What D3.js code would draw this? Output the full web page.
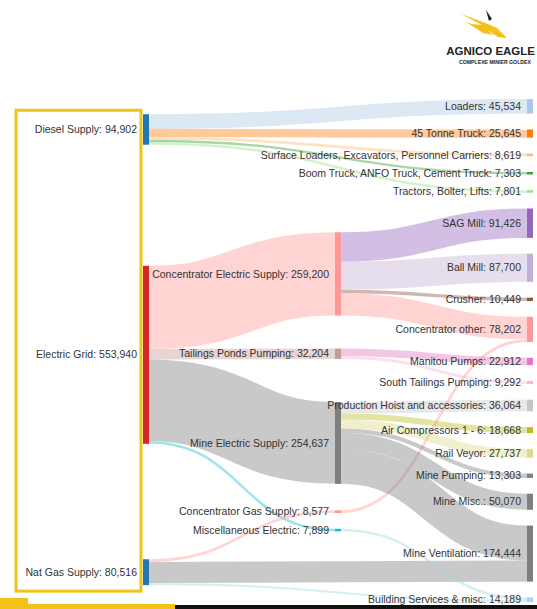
<!DOCTYPE html>
<html>
<head>
<meta charset="utf-8">
<script src="https://cdn.jsdelivr.net/npm/d3@7"></script>
<style>
  html, body { margin: 0; padding: 0; background: #fff; }
  svg { display: block; }
  .label { font-family: "Liberation Sans", Arial, sans-serif; font-size: 10.5px; fill: #333; }
</style>
</head>
<body>
<div id="viz"></div>
<script>
// node names and their colours (same order)
const nodeNames = [
  'Diesel Supply', 'Electric Grid', 'Nat Gas Supply',
  'Concentrator Electric Supply', 'Tailings Ponds Pumping', 'Mine Electric Supply',
  'Concentrator Gas Supply', 'Miscellaneous Electric',
  'Loaders', '45 Tonne Truck', 'Surface Loaders, Excavators, Personnel Carriers',
  'Boom Truck, ANFO Truck, Cement Truck', 'Tractors, Bolter, Lifts',
  'SAG Mill', 'Ball Mill', 'Crusher', 'Concentrator other',
  'Manitou Pumps', 'South Tailings Pumping',
  'Production Hoist and accessories', 'Air Compressors 1 - 6', 'Rail Veyor',
  'Mine Pumping', 'Mine Misc.', 'Mine Ventilation', 'Building Services & misc'
]
const nodeColors = [
  '#1f77b4', '#d62728', '#1f77b4',
  '#ff9896', '#c49c94', '#7f7f7f', '#ff9896', '#17becf',
  '#aec7e8', '#ff7f0e', '#ffbb78', '#2ca02c', '#98df8a',
  '#9467bd', '#c5b0d5', '#8c564b', '#ff9896',
  '#e377c2', '#f7b6d2',
  '#c7c7c7', '#bcbd22', '#dbdb8d', '#7f7f7f', '#7f7f7f', '#7f7f7f', '#9edae5'
]

// flows (source index, target index, value)
const linkSource = [0, 0, 0, 0, 0, 1, 1, 1, 1, 2, 2, 2, 3, 3, 3, 3, 6, 4, 4, 5, 5, 5, 5, 5, 5, 7]
const linkTarget = [8, 9, 10, 11, 12, 3, 4, 5, 7, 6, 24, 25, 13, 14, 15, 16, 16, 17, 18, 19, 20, 21, 22, 23, 24, 25]
const linkValue = [
  45534, 25645, 8619, 7303, 7801,
  259200, 32204, 254637, 7899,
  8577, 65649, 6290,
  91426, 87700, 10449, 69625,
  8577,
  22912, 9292,
  36064, 18668, 27737, 13303, 50070, 108795,
  7899
]

const width = 537
const height = 609
const ext = { x0: 143, x1: 533, y0: 99, y1: 602 }
const nodeWidth = 6
const nodePadding = 15.8
const iterations = 200

/**
 * Small sankey layout (same steps as d3-sankey, which is not in the d3 bundle).
 * Nodes keep their input order inside each column.
 */
function sankeyLayout (nodes, links) {
  nodes.forEach((n, i) => { n.index = i; n.sourceLinks = []; n.targetLinks = [] })
  links.forEach((l, i) => {
    l.index = i
    l.source = nodes[l.source]
    l.target = nodes[l.target]
    l.source.sourceLinks.push(l)
    l.target.targetLinks.push(l)
  })
  nodes.forEach(n => {
    n.value = Math.max(d3.sum(n.sourceLinks, l => l.value), d3.sum(n.targetLinks, l => l.value))
  })

  // depths
  let current = new Set(nodes)
  let next = new Set()
  let x = 0
  while (current.size) {
    for (const node of current) {
      node.depth = x
      for (const { target } of node.sourceLinks) next.add(target)
    }
    x++
    current = next
    next = new Set()
  }
  const nLayers = x
  nodes.forEach(n => { n.layer = n.sourceLinks.length ? n.depth : nLayers - 1 })

  const kx = (ext.x1 - ext.x0 - nodeWidth) / (nLayers - 1)
  const columns = d3.range(nLayers).map(() => [])
  nodes.forEach(n => {
    n.x0 = ext.x0 + n.layer * kx
    n.x1 = n.x0 + nodeWidth
    columns[n.layer].push(n)
  })

  const py = Math.min(nodePadding, (ext.y1 - ext.y0) / (d3.max(columns, c => c.length) - 1))

  const ascendingBreadth = (a, b) => a.y0 - b.y0
  const ascSource = (a, b) => ascendingBreadth(a.source, b.source) || a.index - b.index
  const ascTarget = (a, b) => ascendingBreadth(a.target, b.target) || a.index - b.index

  function reorderLinks (list) {
    for (const { sourceLinks, targetLinks } of list) {
      sourceLinks.sort(ascTarget)
      targetLinks.sort(ascSource)
    }
  }
  function reorderNodeLinks ({ sourceLinks, targetLinks }) {
    for (const { source: { sourceLinks } } of targetLinks) sourceLinks.sort(ascTarget)
    for (const { target: { targetLinks } } of sourceLinks) targetLinks.sort(ascSource)
  }

  // initial breadths
  const ky = d3.min(columns, c => (ext.y1 - ext.y0 - (c.length - 1) * py) / d3.sum(c, n => n.value))
  for (const col of columns) {
    let y = ext.y0
    for (const node of col) {
      node.y0 = y
      node.y1 = y + node.value * ky
      y = node.y1 + py
      for (const link of node.sourceLinks) link.width = link.value * ky
    }
    y = (ext.y1 - y + py) / (col.length + 1)
    col.forEach((node, i) => { node.y0 += y * (i + 1); node.y1 += y * (i + 1) })
    reorderLinks(col)
  }

  function targetTop (source, target) {
    let y = source.y0 - (source.sourceLinks.length - 1) * py / 2
    for (const { target: node, width } of source.sourceLinks) {
      if (node === target) break
      y += width + py
    }
    for (const { source: node, width } of target.targetLinks) {
      if (node === source) break
      y -= width
    }
    return y
  }
  function sourceTop (source, target) {
    let y = target.y0 - (target.targetLinks.length - 1) * py / 2
    for (const { source: node, width } of target.targetLinks) {
      if (node === source) break
      y += width + py
    }
    for (const { target: node, width } of source.sourceLinks) {
      if (node === target) break
      y -= width
    }
    return y
  }

  function topToBottom (col, y, i, alpha) {
    for (; i < col.length; ++i) {
      const node = col[i]
      const dy = (y - node.y0) * alpha
      if (dy > 1e-6) { node.y0 += dy; node.y1 += dy }
      y = node.y1 + py
    }
  }
  function bottomToTop (col, y, i, alpha) {
    for (; i >= 0; --i) {
      const node = col[i]
      const dy = (node.y1 - y) * alpha
      if (dy > 1e-6) { node.y0 -= dy; node.y1 -= dy }
      y = node.y0 - py
    }
  }
  function resolveCollisions (col, alpha) {
    const i = col.length >> 1
    const subject = col[i]
    bottomToTop(col, subject.y0 - py, i - 1, alpha)
    topToBottom(col, subject.y1 + py, i + 1, alpha)
    bottomToTop(col, ext.y1, col.length - 1, alpha)
    topToBottom(col, ext.y0, 0, alpha)
  }

  function relaxLeftToRight (alpha, beta) {
    for (let i = 1; i < columns.length; ++i) {
      const col = columns[i]
      for (const target of col) {
        let y = 0
        let w = 0
        for (const { source, value } of target.targetLinks) {
          const v = value * (target.layer - source.layer)
          y += targetTop(source, target) * v
          w += v
        }
        if (!(w > 0)) continue
        const dy = (y / w - target.y0) * alpha
        target.y0 += dy
        target.y1 += dy
        reorderNodeLinks(target)
      }
      resolveCollisions(col, beta)
    }
  }
  function relaxRightToLeft (alpha, beta) {
    for (let i = columns.length - 2; i >= 0; --i) {
      const col = columns[i]
      for (const source of col) {
        let y = 0
        let w = 0
        for (const { target, value } of source.sourceLinks) {
          const v = value * (target.layer - source.layer)
          y += sourceTop(source, target) * v
          w += v
        }
        if (!(w > 0)) continue
        const dy = (y / w - source.y0) * alpha
        source.y0 += dy
        source.y1 += dy
        reorderNodeLinks(source)
      }
      resolveCollisions(col, beta)
    }
  }

  for (let i = 0; i < iterations; ++i) {
    const alpha = Math.pow(0.99, i)
    const beta = Math.max(1 - alpha, (i + 1) / iterations)
    relaxRightToLeft(alpha, beta)
    relaxLeftToRight(alpha, beta)
  }

  // link breadths
  for (const node of nodes) {
    let y0 = node.y0
    let y1 = node.y0
    for (const link of node.sourceLinks) { link.y0 = y0 + link.width / 2; y0 += link.width }
    for (const link of node.targetLinks) { link.y1 = y1 + link.width / 2; y1 += link.width }
  }
  return { nodes, links }
}

const graph = sankeyLayout(
  nodeNames.map((name, i) => ({ name, color: nodeColors[i] })),
  linkValue.map((value, i) => ({ source: linkSource[i], target: linkTarget[i], value }))
)

const svg = d3.select('#viz')
  .append('svg')
  .attr('width', width)
  .attr('height', height)

const fmt = d3.format(',')

// links
svg.append('g')
  .attr('fill', 'none')
  .selectAll('path')
  .data(graph.links)
  .join('path')
  .attr('d', d3.linkHorizontal()
    .source(d => [d.source.x1, d.y0])
    .target(d => [d.target.x0, d.y1]))
  .attr('stroke', d => d.target.color)
  .attr('stroke-opacity', 0.42)
  .attr('stroke-width', d => Math.max(1, d.width))

// nodes
svg.append('g')
  .selectAll('rect')
  .data(graph.nodes)
  .join('rect')
  .attr('x', d => d.x0)
  .attr('y', d => d.y0)
  .attr('width', d => d.x1 - d.x0)
  .attr('height', d => Math.max(1.5, d.y1 - d.y0))
  .attr('fill', d => d.color)

// labels
svg.append('g')
  .selectAll('text')
  .data(graph.nodes)
  .join('text')
  .attr('class', 'label')
  .attr('x', d => d.x0 - 6)
  .attr('y', d => (d.y0 + d.y1) / 2)
  .attr('dy', '0.35em')
  .attr('text-anchor', 'end')
  .text(d => `${d.name}: ${fmt(d.value)}`)

// yellow highlight box around the supply column
const firstCol = graph.nodes.filter(d => d.layer === 0)
const boxTop = d3.min(firstCol, d => d.y0) - 4
const boxBottom = d3.max(firstCol, d => d.y1) + 6
svg.append('rect')
  .attr('x', 16)
  .attr('y', boxTop)
  .attr('width', firstCol[0].x0 - 2 - 16)
  .attr('height', boxBottom - boxTop)
  .attr('fill', 'none')
  .attr('stroke', '#edc31c')
  .attr('stroke-width', 3)

// footer band
const footer = svg.append('g')
footer.append('rect').attr('x', 0).attr('y', 598).attr('width', 28).attr('height', 11).attr('fill', '#f2c218')
footer.append('rect').attr('x', 28).attr('y', 604).attr('width', 147).attr('height', 5).attr('fill', '#f2c218')
footer.append('rect').attr('x', 175).attr('y', 605).attr('width', width - 175).attr('height', 4).attr('fill', '#111')

// logo
const logo = svg.append('g')
logo.append('path')
  .attr('d', 'M461,14 L488,24 L497,28 L507,38 L498,37 L489,31 L479,29 L472,24 L482,25 Z')
  .attr('fill', '#f2c218')
logo.append('path')
  .attr('d', 'M466,22 L486,29 L493,35 L483,33 Z')
  .attr('fill', '#f2c218')
logo.append('path')
  .attr('d', 'M486,10 L492,19 L489,21 Z')
  .attr('fill', '#222')
logo.append('text')
  .attr('x', 535)
  .attr('y', 55)
  .attr('text-anchor', 'end')
  .attr('font-family', '"Liberation Sans", Arial, sans-serif')
  .attr('font-weight', 'bold')
  .attr('font-size', 11.5)
  .attr('fill', '#222')
  .text('AGNICO EAGLE')
logo.append('text')
  .attr('x', 531)
  .attr('y', 64)
  .attr('text-anchor', 'end')
  .attr('font-family', '"Liberation Sans", Arial, sans-serif')
  .attr('font-weight', 'bold')
  .attr('font-size', 5.2)
  .attr('fill', '#222')
  .text('COMPLEXE MINIER GOLDEX')
</script>
</body>
</html>
